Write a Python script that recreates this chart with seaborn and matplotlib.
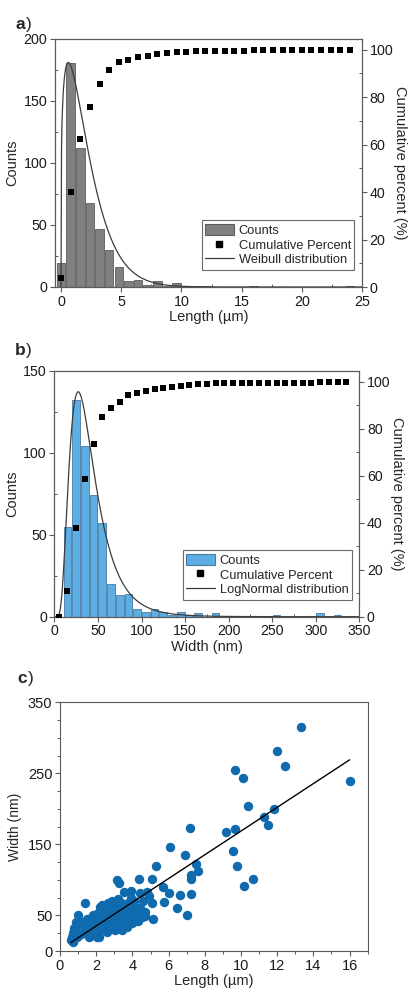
import numpy as np
import matplotlib
matplotlib.use("Agg")
import matplotlib.pyplot as plt
from matplotlib.patches import Patch
from matplotlib.lines import Line2D
from matplotlib.ticker import MultipleLocator, FixedLocator
import seaborn as sns

# ---------------- (a) length histogram ----------------
length_centers = [0.0, 0.8, 1.6, 2.4, 3.2, 4.0, 4.8, 5.6, 6.4, 7.2, 8.0, 8.8, 9.6,
                  10.4, 11.2, 12.0, 12.8, 13.6, 14.4, 15.2, 16.0, 16.8, 17.6, 18.4,
                  19.2, 20.0, 20.8, 21.6, 22.4, 23.2, 24.0]
length_counts = [19, 181, 112, 68, 47, 30, 16, 5, 6, 2, 5, 1, 3,
                 1, 1, 1, 0, 0, 0, 0, 1, 0, 0, 0,
                 0, 0, 0, 0, 0, 0, 1]
length_bin = 0.8
weibull_shape, weibull_scale, weibull_area = 1.25, 2.2, 537.0

# ---------------- (b) width histogram ----------------
width_centers = [5, 15, 25, 35, 45, 55, 65, 75, 85, 95, 105, 115, 125, 135, 145, 155,
                 165, 175, 185, 195, 205, 215, 225, 235, 245, 255, 265, 275, 285, 295,
                 305, 315, 325, 335]
width_counts = [0, 55, 132, 104, 74, 57, 20, 13, 14, 5, 3, 5, 3, 1, 3, 1,
                2, 0, 2, 0, 0, 0, 0, 0, 0, 1, 0, 0, 0, 0,
                2, 0, 1, 0]
width_bin = 10
lognorm_mu, lognorm_sigma, lognorm_area = 3.60, 0.54, 5880.0

# ---------------- (c) width vs length ----------------
length_um = [13.3, 11.98, 12.44, 16.0, 9.67, 10.11, 10.39, 11.83, 11.26, 11.48, 9.15, 9.65,
             7.16, 6.07, 6.88, 9.56, 9.80, 10.15, 10.67, 7.49, 7.60, 7.21, 7.24, 7.26,
             6.64, 6.48, 6.99, 5.31, 5.07, 4.36, 3.16, 3.28, 5.70, 6.00, 5.73, 5.10,
             4.82, 4.90, 4.58, 3.90, 3.55, 4.71, 5.13, 1.37, 2.64, 3.22,
             1.01, 0.89, 0.78, 0.70, 0.59, 0.74, 0.92, 1.20, 1.44, 1.14, 1.62, 1.85,
             1.94, 2.07, 2.18, 2.31, 2.40, 2.55, 2.77, 2.95, 3.10, 3.32, 3.41, 3.62,
             3.78, 3.88, 4.02, 4.15, 4.43, 4.52, 4.70, 3.32, 3.04, 2.80, 2.58, 2.31,
             2.03, 2.18, 3.40, 3.69, 3.97, 1.00, 1.20, 1.53, 1.66, 2.12, 2.07, 2.44,
             2.60, 3.14, 3.60, 4.24, 0.65, 0.83, 1.94, 2.95, 2.20, 1.75,
             1.30, 1.50, 1.70, 1.80, 2.00, 2.20, 2.30, 2.50, 2.60, 2.70, 2.90, 3.00,
             3.20, 3.30, 3.50, 3.50, 3.70, 3.80, 4.00, 4.10, 4.30, 4.40, 2.10, 1.60,
             0.85, 1.05, 3.90, 2.85]
width_nm = [315, 281, 261, 239, 255, 243, 204, 200, 189, 178, 167, 171,
            173, 146, 135, 141, 120, 92, 101, 122, 112, 107, 101, 80,
            79, 61, 51, 120, 101, 102, 100, 95, 90, 81, 69, 67,
            83, 78, 71, 85, 83, 49, 45, 68, 68, 73,
            51, 41, 33, 26, 15, 13, 19, 39, 32, 24, 19, 25,
            33, 42, 51, 55, 46, 39, 54, 62, 49, 69, 60, 51,
            67, 41, 55, 62, 81, 48, 55, 39, 30, 33, 27, 30,
            20, 20, 29, 34, 39, 37, 41, 34, 21, 54, 46, 31,
            60, 60, 58, 55, 20, 27, 30, 44, 62, 40,
            27, 45, 30, 50, 25, 35, 65, 50, 42, 35, 52, 38,
            45, 55, 42, 66, 48, 57, 47, 70, 42, 60, 28, 38,
            28, 22, 75, 70]
fit_slope, fit_intercept = 16.7, 1.8
fit_range = [0.6, 16.0]

# ---------------- style ----------------
sns.set_style("ticks")
plt.rcParams["font.family"] = ["Liberation Sans", "DejaVu Sans"]
plt.rcParams["axes.edgecolor"] = "#5a5a5a"
plt.rcParams["axes.linewidth"] = 0.8

W, H = 408, 988
fig = plt.figure(figsize=(W / 100, H / 100), dpi=100)


def px_axes(l, t, r, b):
    return fig.add_axes([l / W, 1 - b / H, (r - l) / W, (b - t) / H])


def style_ticks(ax, size, right_side=False):
    ax.tick_params(which="major", direction="out", length=3.5, width=0.8,
                   color="#5a5a5a", labelsize=size, pad=2, labelcolor="#1a1a1a")
    ax.tick_params(which="minor", direction="in", length=2.5, width=0.7, color="#5a5a5a")
    if right_side:
        ax.tick_params(which="both", left=False, right=True)
    else:
        ax.tick_params(which="both", top=False, right=False)


def panel_label(x, y, letter):
    fig.text(x / W, 1 - y / H, letter, fontsize=12.5, fontweight="bold", va="baseline")
    fig.text((x + 11) / W, 1 - y / H, ")", fontsize=12.5, va="baseline")


def dist_panel(ax, centers, counts, bw, face, edge, xs, curve, xlim, ylim,
               xmaj, xmin, ymaj, ymin, xlabel, curve_name, tsize):
    sns.histplot(x=centers, weights=counts, binwidth=bw,
                 binrange=(centers[0] - bw / 2, centers[-1] + bw / 2),
                 shrink=0.88, color=face, edgecolor=edge, linewidth=0.6, alpha=1,
                 ax=ax, zorder=2)
    sns.lineplot(x=xs, y=curve, color="#3c3c3c", linewidth=0.9, ax=ax, zorder=3)
    ax.set_xlim(*xlim)
    ax.set_ylim(*ylim)
    ax.xaxis.set_major_locator(MultipleLocator(xmaj))
    ax.xaxis.set_minor_locator(MultipleLocator(xmin))
    ax.yaxis.set_major_locator(MultipleLocator(ymaj))
    ax.yaxis.set_minor_locator(MultipleLocator(ymin))
    ax.set_xlabel(xlabel, fontsize=10.5, labelpad=1)
    ax.set_ylabel("Counts", fontsize=10.5, labelpad=3)
    style_ticks(ax, tsize)

    cum = np.cumsum(counts) / np.sum(counts) * 100
    ax2 = ax.twinx()
    sns.scatterplot(x=centers, y=cum, marker="s", color="black", s=16, linewidth=0,
                    ax=ax2, zorder=4)
    ax2.set_ylim(0, 104.5)
    ax2.yaxis.set_major_locator(MultipleLocator(20))
    ax2.yaxis.set_minor_locator(MultipleLocator(10))
    ax2.set_ylabel("Cumulative percent (%)", rotation=270, fontsize=10.5, labelpad=10)
    style_ticks(ax2, tsize, right_side=True)
    for sp in ax2.spines.values():
        sp.set_color("#5a5a5a")

    handles = [Patch(facecolor=face, edgecolor=edge, linewidth=0.8),
               Line2D([], [], marker="s", color="black", linestyle="none", markersize=4),
               Line2D([], [], color="#3c3c3c", linewidth=0.9)]
    leg = ax2.legend(handles, ["Counts", "Cumulative Percent", curve_name],
                     loc="lower right", bbox_to_anchor=(0.975, 0.07), fontsize=9.3,
                     frameon=True, fancybox=False, framealpha=1, edgecolor="#6a6a6a",
                     handlelength=2.2, handleheight=1.0, handletextpad=0.4,
                     labelspacing=0.12, borderpad=0.25, borderaxespad=0)
    leg.get_frame().set_linewidth(0.8)
    return ax2


# (a)
ax_a = px_axes(55, 39, 362, 287)
xa = np.linspace(0.0, 25, 600)
wa = (weibull_shape / weibull_scale) * (xa / weibull_scale) ** (weibull_shape - 1) \
    * np.exp(-(xa / weibull_scale) ** weibull_shape)
dist_panel(ax_a, length_centers, length_counts, length_bin, "#808080", "#5c5c5c",
           xa, weibull_area * wa, (-0.5, 25), (0, 200), 5, 2.5, 50, 25,
           "Length (µm)", "Weibull distribution", 10.3)
panel_label(15, 29, "a")

# (b)
ax_b = px_axes(54.4, 371, 359.3, 616.7)
xb = np.linspace(1, 350, 800)
lb = np.exp(-(np.log(xb) - lognorm_mu) ** 2 / (2 * lognorm_sigma ** 2)) \
    / (xb * lognorm_sigma * np.sqrt(2 * np.pi))
dist_panel(ax_b, width_centers, width_counts, width_bin, "#5DAEE3", "#4a7aa3",
           xb, lognorm_area * lb, (0, 350), (0, 150), 50, 25, 50, 25,
           "Width (nm)", "LogNormal distribution", 10.2)
panel_label(15, 355, "b")

# (c)
ax_c = px_axes(60, 702.3, 367.7, 951)
sns.scatterplot(x=length_um, y=width_nm, s=46, color="#0F6BAE", linewidth=0,
                ax=ax_c, zorder=2)
fit_x = np.array(fit_range)
sns.lineplot(x=fit_x, y=fit_intercept + fit_slope * fit_x, color="black",
             linewidth=1.0, ax=ax_c, zorder=3)
ax_c.set_xlim(0, 17)
ax_c.set_ylim(0, 350)
ax_c.xaxis.set_major_locator(MultipleLocator(2))
ax_c.xaxis.set_minor_locator(MultipleLocator(1))
ax_c.yaxis.set_major_locator(FixedLocator([0, 50, 150, 250, 350]))
ax_c.yaxis.set_minor_locator(FixedLocator([25, 75, 100, 125, 175, 200, 225, 275, 300, 325]))
ax_c.set_xlabel("Length (µm)", fontsize=10.5, labelpad=1)
ax_c.set_ylabel("Width (nm)", fontsize=10, labelpad=4)
style_ticks(ax_c, 10.5)
ax_c.tick_params(which="minor", direction="out", length=2.5)
panel_label(17, 683, "c")

fig.savefig("out.png", dpi=100)
